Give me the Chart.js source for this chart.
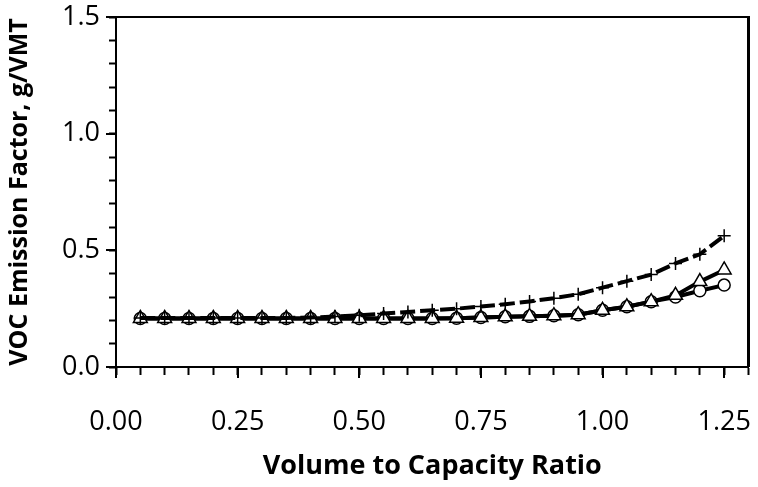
<!DOCTYPE html>
<html>
<head>
<meta charset="utf-8">
<script src="https://cdn.jsdelivr.net/npm/chart.js@4.4.1/dist/chart.umd.min.js"></script>
<style>
  body { margin: 0; background: #fff; }
  #wrap { width: 758px; height: 487px; }
</style>
</head>
<body>
<div id="wrap"><canvas id="voc-chart" width="758" height="487"></canvas></div>
<script>
// volume to capacity ratios
const vcRatio = [0.05, 0.10, 0.15, 0.20, 0.25, 0.30, 0.35, 0.40, 0.45, 0.50,
                 0.55, 0.60, 0.65, 0.70, 0.75, 0.80, 0.85, 0.90, 0.95, 1.00,
                 1.05, 1.10, 1.15, 1.20, 1.25];

// VOC emission factors, g/VMT
const vocCircle = [0.208, 0.208, 0.208, 0.208, 0.208, 0.208, 0.208, 0.208, 0.208, 0.208,
                   0.208, 0.208, 0.208, 0.209, 0.212, 0.215, 0.217, 0.220, 0.224, 0.243,
                   0.258, 0.280, 0.300, 0.327, 0.351];
const vocTriangle = [0.208, 0.208, 0.208, 0.208, 0.208, 0.208, 0.208, 0.208, 0.208, 0.208,
                     0.208, 0.208, 0.208, 0.209, 0.212, 0.215, 0.217, 0.220, 0.224, 0.243,
                     0.258, 0.280, 0.307, 0.366, 0.416];
const vocPlus = [0.210, 0.210, 0.210, 0.210, 0.210, 0.210, 0.210, 0.212, 0.216, 0.222,
                 0.229, 0.236, 0.243, 0.250, 0.259, 0.269, 0.281, 0.295, 0.312, 0.340,
                 0.368, 0.396, 0.444, 0.483, 0.562];

// tick labels
const xTickLabels = [0.00, 0.25, 0.50, 0.75, 1.00, 1.25];
const yTickLabels = [0.0, 0.5, 1.0, 1.5];

const FONT = "'Open Sans', 'Noto Sans', sans-serif";

function isLabelled(v, list) {
    return list.some(t => Math.abs(t - v) < 1e-6);
}

function pts(ys) {
    return vcRatio.map((x, i) => ({x: x, y: ys[i]}));
}

// fixed axis boxes so the plot area doesn't shift around with the labels
function fixBox(size, horizontal) {
    return s => {
        if (horizontal) s.height = size; else s.width = size;
        s.paddingLeft = 0;
        s.paddingRight = 0;
        s.paddingTop = 0;
        s.paddingBottom = 0;
    };
}

// frame on top/right plus the longer major ticks
const frameTicks = {
    id: 'frameTicks',
    afterDraw(chart) {
        const ctx = chart.ctx;
        const a = chart.chartArea;
        const xs = chart.scales.x, ys = chart.scales.y;
        ctx.save();
        ctx.strokeStyle = '#000';
        ctx.lineWidth = 2;
        ctx.beginPath();
        ctx.moveTo(a.left, a.top);
        ctx.lineTo(a.right, a.top);
        ctx.stroke();
        ctx.lineWidth = 3;
        ctx.beginPath();
        ctx.moveTo(a.right, a.top - 1);
        ctx.lineTo(a.right, a.bottom);
        ctx.stroke();
        ctx.lineWidth = 2;
        ctx.beginPath();
        xTickLabels.forEach(v => {
            const px = Math.round(xs.getPixelForValue(v));
            ctx.moveTo(px, a.bottom);
            ctx.lineTo(px, a.bottom + 11);
        });
        yTickLabels.forEach(v => {
            const py = Math.round(ys.getPixelForValue(v));
            ctx.moveTo(a.left - 10, py);
            ctx.lineTo(a.left, py);
        });
        ctx.stroke();
        ctx.restore();
    }
};

const config = {
    type: 'line',
    data: {
        datasets: [{
            label: 'plus',
            data: pts(vocPlus),
            order: 0,
            borderColor: '#000',
            borderWidth: 4,
            borderDash: [15, 5],
            pointStyle: 'cross',
            pointRadius: 6.5,
            pointBorderWidth: 1.5,
            pointBorderColor: '#000',
            pointBackgroundColor: '#000'
        },{
            label: 'triangle',
            data: pts(vocTriangle),
            order: 1,
            borderColor: '#000',
            borderWidth: 4,
            pointStyle: 'triangle',
            pointRadius: 8,
            pointBorderWidth: 1.5,
            pointBorderColor: '#000',
            pointBackgroundColor: '#fff'
        },{
            label: 'circle',
            data: pts(vocCircle),
            order: 2,
            borderColor: '#000',
            borderWidth: 4,
            pointStyle: 'circle',
            pointRadius: 6,
            pointBorderWidth: 1.5,
            pointBorderColor: '#000',
            pointBackgroundColor: '#fff'
        }]
    },
    options: {
        responsive: false,
        animation: false,
        layout: { padding: { left: 0, right: 6, top: 17, bottom: 0 } },
        plugins: { legend: { display: false }, tooltip: { enabled: false } },
        elements: { line: { tension: 0 } },
        scales: {
            x: {
                type: 'linear',
                min: 0,
                max: 1.3,
                afterFit: fixBox(120, true),
                ticks: {
                    stepSize: 0.05,
                    autoSkip: false,
                    maxRotation: 0,
                    padding: 31,
                    color: '#000',
                    font: { family: FONT, size: 27 },
                    callback: v => isLabelled(v, xTickLabels) ? v.toFixed(2) : ''
                },
                grid: { drawOnChartArea: false, tickLength: 8, tickWidth: 2, tickColor: '#000' },
                border: { color: '#000', width: 2 },
                title: {
                    display: true,
                    text: 'Volume to Capacity Ratio',
                    color: '#000',
                    font: { family: FONT, size: 27, weight: 'bold' },
                    padding: { top: 0, bottom: 4 }
                }
            },
            y: {
                min: 0,
                max: 1.5,
                afterFit: fixBox(116, false),
                ticks: {
                    stepSize: 0.1,
                    autoSkip: false,
                    padding: 9,
                    color: '#000',
                    font: { family: FONT, size: 27 },
                    callback: v => isLabelled(v, yTickLabels) ? v.toFixed(1) : ''
                },
                grid: { drawOnChartArea: false, tickLength: 7, tickWidth: 2, tickColor: '#000' },
                border: { color: '#000', width: 2 },
                title: {
                    display: true,
                    text: 'VOC Emission Factor, g/VMT',
                    color: '#000',
                    font: { family: FONT, size: 25, weight: 'bold' },
                    padding: { top: 5, bottom: 0 }
                }
            }
        }
    },
    plugins: [frameTicks]
};

const vocChart = new Chart(document.getElementById('voc-chart'), config);
</script>
</body>
</html>
